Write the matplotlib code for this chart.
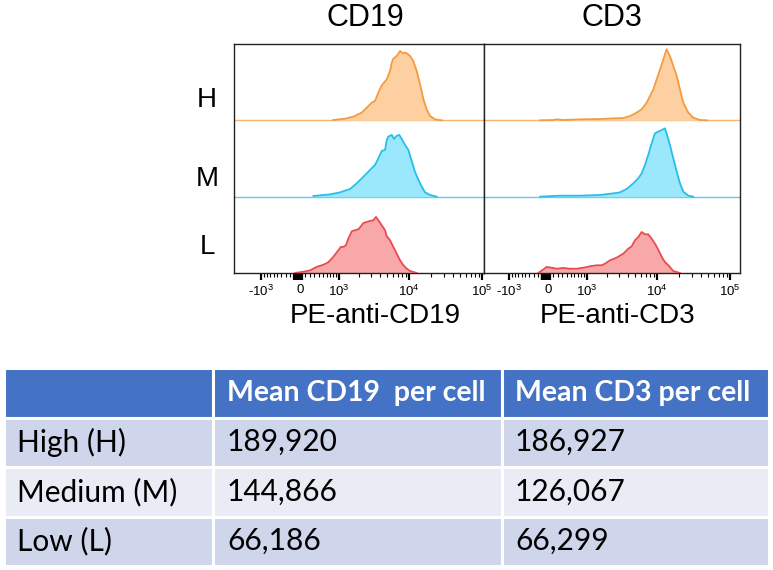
import matplotlib
matplotlib.use('Agg')
import matplotlib.pyplot as plt

W, H = 773, 570

plt.rcParams['font.family'] = ['Liberation Sans', 'DejaVu Sans']
plt.rcParams['mathtext.default'] = 'regular'

# histogram traces: fluorescence (x) and height in % of the row (y)
cd19_high_x = [800, 1250, 1660, 2200, 2730, 3040, 3380, 3760, 4190, 4920,
               5460, 5770, 6060, 6760, 7500, 8170, 8780, 9440, 10300, 11400,
               12700, 14100, 15700, 17400, 19400, 22700, 28000]
cd19_high_y = [0.4, 2.2, 4.8, 10.1, 18.7, 23.2, 25.3, 36.3, 45.9, 53.7,
               64.6, 75.6, 80.9, 84.3, 90.8, 87.8, 88.7, 87.4, 84.3, 77.7,
               64.6, 47.2, 27.5, 14.4, 5.6, 1.3, 0]

cd19_med_x = [280, 700, 1040, 1490, 1860, 2200, 2590, 2880, 3380, 3760,
              4190, 4660, 4920, 5170, 5770, 6200, 6760, 7330, 7900, 8780,
              9750, 10900, 12000, 13400, 14900, 16500, 19400, 23900]
cd19_med_y = [0.9, 3.0, 5.6, 10.1, 17.4, 24.0, 30.5, 35.0, 41.5, 50.2,
              59.9, 61.2, 74.3, 78.6, 80.9, 75.6, 79.9, 80.9, 75.6, 67.8,
              61.2, 45.9, 32.8, 21.9, 13.1, 5.6, 2.2, 0]

cd19_low_x = [-100, 70, 210, 350, 520, 650, 800, 980, 1070, 1170,
              1290, 1400, 1580, 1760, 1970, 2200, 2320, 2590, 2880, 3200,
              3490, 3760, 4190, 4660, 4920, 5460, 6060, 6760, 7500, 8320,
              9270, 10300, 12700]
cd19_low_y = [0, 1.7, 3.5, 7.9, 10.9, 14.0, 21.0, 29.8, 34.1, 34.1,
              36.3, 45.0, 54.7, 56.0, 57.3, 62.5, 65.5, 66.8, 68.2, 69.1,
              73.4, 69.1, 62.5, 56.0, 48.1, 42.9, 34.1, 25.3, 16.6, 10.1,
              5.6, 2.6, 0]

cd3_high_x = [-160, 110, 180, 320, 760, 1590, 2470, 3420, 4240, 5240,
              6140, 7200, 7990, 8870, 9880, 11000, 12200, 13500, 15000, 16700,
              18600, 20600, 22900, 26800, 31400, 38700, 47900]
cd3_high_y = [0, 0.4, 1.3, 0.4, 1.3, 1.7, 2.6, 3.0, 5.6, 10.1,
              14.4, 23.2, 31.8, 40.6, 53.7, 66.8, 79.9, 93.1, 84.3, 71.2,
              58.1, 40.6, 23.2, 10.1, 3.5, 0.4, 0]

cd3_med_x = [-160, 250, 760, 1590, 2470, 3070, 3810, 4710, 5520, 6140,
             6820, 7570, 8430, 9360, 10400, 11600, 12800, 13500, 15000, 16700,
             18600, 20600, 22900, 26800, 31400]
cd3_med_y = [0, 1.3, 1.3, 2.2, 4.3, 5.6, 10.1, 17.4, 24.0, 30.5,
             41.5, 54.7, 69.9, 83.0, 85.2, 87.4, 89.5, 83.0, 67.8, 50.2,
             32.8, 17.4, 6.6, 1.3, 0]

cd3_low_x = [-200, -100, -30, 80, 180, 320, 480, 660, 870, 1120,
             1420, 1690, 1880, 2220, 2760, 3420, 4010, 4470, 4960, 5520,
             6140, 6820, 7570, 8430, 9360, 10400, 11600, 12800, 14300, 16700,
             20600]
cd3_low_y = [0, 4.3, 7.9, 6.9, 5.6, 6.6, 5.6, 5.6, 6.9, 8.8,
             10.1, 10.1, 12.2, 16.6, 20.1, 25.3, 31.8, 35.0, 42.9, 47.2,
             53.7, 50.7, 50.7, 45.0, 38.4, 30.5, 21.0, 14.4, 10.1, 2.6,
             0]

row_names = ['H', 'M', 'L']
tick_vals = [-1000, 0, 1000, 10000, 100000]
tick_labels = ['-$10^3$', '0', '$10^3$', '$10^4$', '$10^5$']

# table values
levels = ['High (H)', 'Medium (M)', 'Low (L)']
cd19_mean = [189920, 144866, 66186]
cd3_mean = [186927, 126067, 66299]
table_header = ['', 'Mean CD19  per cell', 'Mean CD3 per cell']

colors = {
    'H': ('#F49B3E', '#FDCFA1'),
    'M': ('#25BFE9', '#9BE7FB'),
    'L': ('#E84B4F', '#F9A8A9'),
}


def px_axes(x0, y0, x1, y1):
    return [x0 / W, 1 - y1 / H, (x1 - x0) / W, (y1 - y0) / H]


fig = plt.figure(figsize=(W / 100, H / 100), dpi=100)

# dense cluster of ticks around zero, like the cytometer's biex axis
near_zero = [v for v in range(-120, 0, 8)] + [v for v in range(8, 40, 8)]
major = tick_vals + near_zero
major_labels = tick_labels + [''] * len(near_zero)
minor = ([-v for v in range(200, 1000, 100)] + list(range(100, 1000, 100))
         + list(range(2000, 10000, 1000)) + list(range(20000, 100000, 10000)))

panels = [
    (px_axes(234, 44, 484, 273), (-2530, 106000),
     [(cd19_high_x, cd19_high_y), (cd19_med_x, cd19_med_y), (cd19_low_x, cd19_low_y)]),
    (px_axes(484, 44, 740, 273), (-2370, 137000),
     [(cd3_high_x, cd3_high_y), (cd3_med_x, cd3_med_y), (cd3_low_x, cd3_low_y)]),
]

for rect, xlim, traces in panels:
    ax = fig.add_axes(rect)
    ax.set_xscale('asinh', linear_width=641)
    for name, (xs, ys), offset in zip(row_names, traces, [2, 1, 0]):
        line_c, fill_c = colors[name]
        if offset > 0:
            ax.axhline(offset, color=line_c, lw=1.0, alpha=0.75, zorder=1)
        top = [offset + v / 100 for v in ys]
        ax.fill_between(xs, offset, top, color=fill_c, lw=0, zorder=2)
        ax.plot(xs, top, color=line_c, lw=1.3, zorder=3)
    ax.set_xlim(*xlim)
    ax.set_ylim(0, 3)
    ax.set_yticks([])
    ax.set_xticks(major)
    ax.set_xticklabels(major_labels)
    ax.set_xticks(minor, minor=True)
    ax.tick_params(axis='x', which='major', direction='out', length=5,
                   width=1.6, labelsize=9.5, pad=3)
    ax.tick_params(axis='x', which='minor', direction='out', length=3,
                   width=0.8)
    for sp in ax.spines.values():
        sp.set_linewidth(1)
        sp.set_color('#222222')

fig.text(365 / W, 1 - 18 / H, 'CD19', ha='center', va='center', fontsize=22)
fig.text(612 / W, 1 - 18 / H, 'CD3', ha='center', va='center', fontsize=22)
fig.text(375 / W, 1 - 316 / H, 'PE-anti-CD19', ha='center', va='center', fontsize=20)
fig.text(618 / W, 1 - 316 / H, 'PE-anti-CD3', ha='center', va='center', fontsize=20)
for name, y in zip(row_names, [100, 179, 247]):
    fig.text(207 / W, 1 - y / H, name, ha='center', va='center', fontsize=20)

# summary table
tax = fig.add_axes(px_axes(4, 368, 769, 566))
tax.axis('off')
cells = [[lv, f'{a:,}', f'{b:,}'] for lv, a, b in zip(levels, cd19_mean, cd3_mean)]
col_w = [209, 289, 267]
tbl = tax.table(cellText=cells, colLabels=table_header, cellLoc='left',
                colLoc='left', colWidths=[c / sum(col_w) for c in col_w],
                bbox=[0, 0, 1, 1])
tbl.auto_set_font_size(False)
row_fill = ['#4472C4', '#CFD5EA', '#E9EBF5', '#CFD5EA']
pads = [13, 14, 13]
for (r, c), cell in tbl.get_celld().items():
    cell.set_facecolor(row_fill[r])
    cell.set_edgecolor('white')
    cell.set_linewidth(2.2)
    cell.PAD = pads[c] / col_w[c]
    txt = cell.get_text()
    txt.set_fontfamily('Lato')
    if r == 0:
        txt.set_color('white')
        txt.set_fontweight('bold')
        txt.set_fontsize(20.5)
    else:
        txt.set_color('black')
        txt.set_fontsize(21.5)

fig.savefig('out.png', dpi=100, facecolor='white')
